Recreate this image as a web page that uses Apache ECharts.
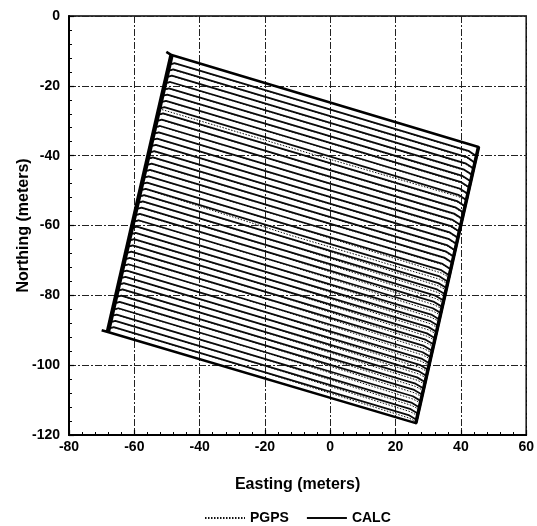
<!DOCTYPE html>
<html>
<head>
<meta charset="utf-8">
<script src="https://cdn.jsdelivr.net/npm/echarts@6/dist/echarts.min.js"></script>
<style>
  html, body { margin: 0; padding: 0; background: #fff; }
  #chart { width: 537px; height: 526px; }
</style>
</head>
<body>
<div id="chart"></div>
<script>
// Survey swaths: each pass is a polyline through 5 stations
// (west end, west crest, middle, east pre-turn, east end).
const calcE0 = [-49.3,-49.7,-50.1,-50.6,-51.0,-51.5,-51.9,-52.4,-52.8,-53.2,-53.7,-54.1,-54.6,-55.0,-55.5,-55.9,-56.3,-56.8,-57.2,-57.7,-58.1,-58.6,-59.0,-59.4,-59.9,-60.3,-60.8,-61.2,-61.7,-62.1,-62.5,-63.0,-63.4,-63.9,-64.3,-64.8,-65.2,-65.6,-66.1,-66.5,-67.0,-67.4,-67.9];
const calcN0 = [-13.9,-15.7,-17.5,-19.3,-21.1,-22.9,-24.7,-26.5,-28.3,-30.1,-31.9,-33.7,-35.5,-37.3,-39.1,-40.9,-42.7,-44.5,-46.3,-48.1,-49.9,-51.7,-53.5,-55.3,-57.1,-58.9,-60.7,-62.5,-64.3,-66.1,-67.9,-69.7,-71.5,-73.3,-75.1,-76.9,-78.7,-80.5,-82.3,-84.1,-85.9,-87.7,-89.5];
const calcE1 = [-47.7,-48.1,-48.5,-49.0,-49.4,-49.9,-50.3,-50.8,-51.2,-51.6,-52.1,-52.5,-53.0,-53.4,-53.9,-54.3,-54.7,-55.2,-55.6,-56.1,-56.5,-57.0,-57.4,-57.8,-58.3,-58.7,-59.2,-59.6,-60.1,-60.5,-60.9,-61.4,-61.8,-62.3,-62.7,-63.2,-63.6,-64.0,-64.5,-64.9,-65.4,-65.8,-66.3];
const calcN1 = [-13.5,-15.3,-17.1,-18.9,-20.7,-22.5,-24.3,-26.1,-27.9,-29.7,-31.5,-33.3,-35.1,-36.9,-38.7,-40.5,-42.3,-44.1,-45.9,-47.7,-49.5,-51.3,-53.1,-54.9,-56.7,-58.5,-60.3,-62.1,-63.9,-65.7,-67.5,-69.3,-71.1,-72.9,-74.7,-76.5,-78.3,-80.1,-81.9,-83.7,-85.5,-87.3,-89.1];
const calcE2 = [-2.7,-3.1,-3.6,-4.0,-4.5,-4.9,-5.3,-5.8,-6.2,-6.7,-7.1,-7.5,-8.0,-8.4,-8.9,-9.3,-9.7,-10.2,-10.6,-11.1,-11.5,-11.9,-12.4,-12.8,-13.2,-13.7,-14.1,-14.6,-15.0,-15.4,-15.9,-16.3,-16.8,-17.2,-17.6,-18.1,-18.5,-19.0,-19.4,-19.8,-20.3,-20.7,-21.2];
const calcN2 = [-26.0,-27.8,-29.6,-31.4,-33.2,-35.0,-36.8,-38.6,-40.4,-42.3,-44.1,-45.9,-47.7,-49.5,-51.3,-53.1,-54.9,-56.7,-58.5,-60.3,-62.1,-63.9,-65.7,-67.5,-69.3,-71.1,-72.9,-74.7,-76.5,-78.3,-80.1,-81.9,-83.7,-85.5,-87.3,-89.1,-90.9,-92.7,-94.5,-96.3,-98.1,-99.9,-101.7];
const calcE3 = [42.3,41.8,41.4,41.0,40.5,40.1,39.6,39.2,38.8,38.3,37.9,37.5,37.0,36.6,36.2,35.7,35.3,34.9,34.4,34.0,33.5,33.1,32.7,32.2,31.8,31.4,30.9,30.5,30.1,29.6,29.2,28.7,28.3,27.9,27.4,27.0,26.6,26.1,25.7,25.3,24.8,24.4,24.0];
const calcN3 = [-38.6,-40.4,-42.2,-44.0,-45.8,-47.6,-49.4,-51.2,-53.0,-54.8,-56.6,-58.4,-60.2,-62.0,-63.8,-65.6,-67.4,-69.2,-71.0,-72.8,-74.6,-76.5,-78.3,-80.1,-81.9,-83.7,-85.5,-87.3,-89.1,-90.9,-92.7,-94.5,-96.3,-98.1,-99.9,-101.7,-103.5,-105.3,-107.1,-108.9,-110.7,-112.5,-114.3];
const calcE4 = [44.8,44.3,43.9,43.5,43.0,42.6,42.1,41.7,41.3,40.8,40.4,40.0,39.5,39.1,38.7,38.2,37.8,37.4,36.9,36.5,36.0,35.6,35.2,34.7,34.3,33.9,33.4,33.0,32.6,32.1,31.7,31.2,30.8,30.4,29.9,29.5,29.1,28.6,28.2,27.8,27.3,26.9,26.5];
const calcN4 = [-40.2,-42.0,-43.7,-45.5,-47.3,-49.1,-50.9,-52.7,-54.5,-56.3,-58.1,-59.9,-61.7,-63.5,-65.3,-67.1,-68.9,-70.7,-72.5,-74.3,-76.1,-77.9,-79.7,-81.5,-83.3,-85.1,-86.9,-88.7,-90.5,-92.3,-94.1,-95.9,-97.7,-99.5,-101.3,-103.1,-104.9,-106.7,-108.5,-110.3,-112.1,-113.9,-115.7];

// PGPS northings at the same stations (eastings shared with CALC)
const pgpsN0 = [-14.0,-15.8,-17.6,-19.4,-21.2,-23.0,-24.8,-26.6,-28.4,-30.2,-32.0,-33.8,-35.6,-37.4,-39.2,-41.0,-42.8,-44.6,-46.4,-48.2,-50.0,-51.8,-53.6,-55.4,-57.2,-59.0,-60.8,-62.6,-64.4,-66.2,-68.0,-69.8,-71.6,-73.4,-75.2,-77.0,-78.8,-80.6,-82.4,-84.2,-86.0,-87.8,-89.6];
const pgpsN1 = [-13.6,-15.4,-17.2,-19.0,-20.8,-22.6,-24.4,-27.0,-28.0,-29.8,-31.6,-33.4,-35.2,-37.0,-38.8,-40.6,-42.4,-44.2,-46.0,-47.8,-49.6,-51.4,-53.2,-55.0,-56.8,-58.6,-60.4,-62.2,-64.0,-65.8,-67.6,-69.4,-71.2,-73.0,-74.8,-76.6,-78.4,-80.2,-82.0,-83.8,-85.6,-87.4,-89.2];
const pgpsN2 = [-26.1,-27.9,-29.7,-31.5,-33.3,-35.1,-36.9,-39.5,-40.5,-42.4,-44.2,-46.0,-47.8,-49.6,-51.4,-53.2,-55.0,-56.8,-58.6,-60.4,-63.0,-64.0,-65.8,-67.6,-69.4,-71.2,-73.0,-74.8,-76.6,-78.4,-80.2,-82.0,-83.8,-85.6,-87.4,-89.2,-91.0,-92.8,-94.6,-96.4,-98.2,-100.0,-101.8];
const pgpsN3 = [-38.8,-40.6,-42.4,-44.2,-46.0,-47.8,-49.6,-51.7,-53.2,-55.0,-56.8,-58.6,-60.4,-62.2,-64.0,-65.8,-67.6,-69.4,-71.2,-73.6,-75.4,-77.3,-79.1,-80.9,-82.7,-84.5,-86.3,-88.1,-89.9,-91.7,-93.5,-95.3,-97.1,-98.9,-100.7,-102.5,-104.3,-106.1,-107.9,-109.7,-111.5,-113.3,-115.1];
const pgpsN4 = [-40.4,-42.2,-43.9,-45.7,-47.5,-49.3,-51.1,-52.9,-54.7,-56.5,-58.3,-60.1,-61.9,-63.7,-65.5,-67.3,-69.1,-70.9,-72.7,-74.9,-76.7,-78.5,-80.3,-82.1,-83.9,-85.7,-87.5,-89.3,-91.1,-92.9,-94.7,-96.5,-98.3,-100.1,-101.9,-103.7,-105.5,-107.3,-109.1,-110.9,-112.7,-114.5,-116.3];

// Block outline (north edge, east edge, south edge) and west edge
const outlineE = [-50.2, -48.6, 45.4, 26.2, -68.1, -70.0];
const outlineN = [-10.3, -11.2, -37.5, -116.6, -90.5, -90.0];
const westEdgeE = [-48.6, -68.1];
const westEdgeN = [-11.2, -90.5];
const eastEdgeE = [45.4, 26.2];
const eastEdgeN = [-37.5, -116.6];

const xTicks = { min: -80, max: 60, step: 20 };
const yTicks = { min: -120, max: 0, step: 20 };

const FONT = '"Liberation Sans", Arial, Helvetica, sans-serif';
const INK = '#000';

const zipPts = (es, ns) => es.map((e, k) => [e, ns[k]]);

const series = [];
for (let i = 0; i < calcE0.length; i++) {
  const es = [calcE0[i], calcE1[i], calcE2[i], calcE3[i], calcE4[i]];
  series.push({
    name: 'PGPS', type: 'line', symbol: 'none', silent: true,
    itemStyle: { color: INK },
    lineStyle: { color: '#111', width: 1, type: [1.5, 1.5] },
    data: zipPts(es, [pgpsN0[i], pgpsN1[i], pgpsN2[i], pgpsN3[i], pgpsN4[i]]),
    z: 2
  });
}
for (let i = 0; i < calcE0.length; i++) {
  const es = [calcE0[i], calcE1[i], calcE2[i], calcE3[i], calcE4[i]];
  series.push({
    name: 'CALC', type: 'line', symbol: 'none', silent: true,
    itemStyle: { color: INK },
    lineStyle: { color: '#0a0a0a', width: 1.8, join: 'round' },
    data: zipPts(es, [calcN0[i], calcN1[i], calcN2[i], calcN3[i], calcN4[i]]),
    z: 3
  });
}
const edge = (es, ns, w) => ({
  name: 'CALC', type: 'line', symbol: 'none', silent: true,
  itemStyle: { color: INK },
  lineStyle: { color: INK, width: w, join: 'round' },
  data: zipPts(es, ns), z: 4
});
series.push(edge(outlineE, outlineN, 2.6));
series.push(edge(westEdgeE, westEdgeN, 4.5));
series.push(edge(eastEdgeE, eastEdgeN, 3.5));

const gridLine = { show: true, lineStyle: { color: '#222', width: 1, type: [7, 2, 2, 2] } };
const labelStyle = { color: INK, fontFamily: FONT, fontWeight: 'bold', fontSize: 14 };
const titleStyle = { color: INK, fontFamily: FONT, fontWeight: 'bold', fontSize: 16 };

const chart = echarts.init(document.getElementById('chart'), null, { renderer: 'canvas' });
chart.setOption({
  animation: false,
  backgroundColor: '#fff',
  grid: { left: 69, right: 9, top: 16, bottom: 91, show: true, borderColor: INK, borderWidth: 1.5, containLabel: false },
  legend: {
    data: ['PGPS', 'CALC'],
    left: 199, top: 506,
    itemWidth: 40, itemHeight: 12, itemGap: 17,
    itemStyle: { opacity: 0 },
    textStyle: { color: INK, fontFamily: FONT, fontWeight: 'bold', fontSize: 14 },
    selectedMode: false
  },
  xAxis: {
    type: 'value', min: xTicks.min, max: xTicks.max, interval: xTicks.step,
    name: 'Easting (meters)', nameLocation: 'middle', nameGap: 42, nameMoveOverlap: false,
    nameTextStyle: titleStyle,
    axisLine: { show: true, onZero: false, lineStyle: { color: INK, width: 2 } },
    axisTick: { show: true, inside: true, length: 5, lineStyle: { color: INK, width: 1.2 } },
    minorTick: { show: true, splitNumber: 5, length: 3, lineStyle: { color: INK, width: 1 } },
    axisLabel: Object.assign({ margin: 5 }, labelStyle),
    splitLine: gridLine
  },
  yAxis: {
    type: 'value', min: yTicks.min, max: yTicks.max, interval: yTicks.step,
    name: 'Northing (meters)', nameLocation: 'middle', nameGap: 37, nameMoveOverlap: false,
    nameTextStyle: titleStyle,
    axisLine: { show: true, onZero: false, lineStyle: { color: INK, width: 2 } },
    axisTick: { show: true, inside: true, length: 5, lineStyle: { color: INK, width: 1.2 } },
    minorTick: { show: true, splitNumber: 5, length: 3, lineStyle: { color: INK, width: 1 } },
    axisLabel: Object.assign({ margin: 9 }, labelStyle),
    splitLine: gridLine
  },
  series: series
});
</script>
</body>
</html>
